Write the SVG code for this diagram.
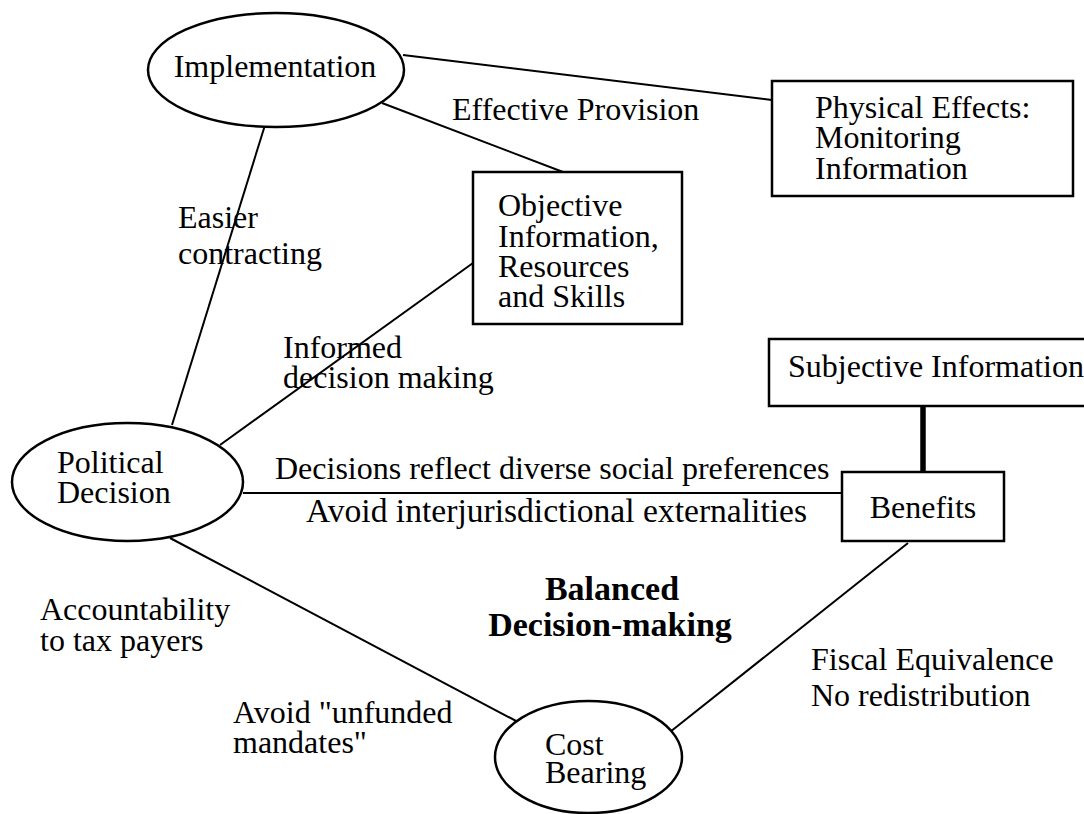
<svg xmlns="http://www.w3.org/2000/svg" width="1084" height="814" viewBox="0 0 1084 814">
<style>
text{font-family:"Liberation Serif","Times New Roman",serif;font-size:32px;fill:#000}
.node{fill:#fff;stroke:#000;stroke-width:2.5}
.conn{stroke:#000;stroke-width:2;fill:none}
.thick{stroke:#000;stroke-width:5.5;fill:none}
.bold{font-weight:bold;font-size:34px}
</style>
<rect width="1084" height="814" fill="#fff"/>
<g id="connectors">
<line class="conn" x1="403" y1="55" x2="772" y2="100"/>
<line class="conn" x1="382" y1="103" x2="563" y2="172"/>
<line class="conn" x1="265" y1="125" x2="172" y2="425"/>
<line class="conn" x1="220" y1="445" x2="473" y2="263"/>
<line class="conn" x1="243" y1="493" x2="842" y2="493"/>
<line class="conn" x1="908" y1="543" x2="670" y2="732"/>
<line class="conn" x1="170" y1="538" x2="518" y2="722"/>
<line class="thick" x1="923" y1="406" x2="923" y2="472"/>
</g>
<g id="implementation">
<ellipse class="node" cx="276" cy="70" rx="128" ry="57"/>
<text x="275" y="77" text-anchor="middle">Implementation</text>
</g>
<g id="physical-effects">
<rect class="node" x="772" y="81" width="301" height="115"/>
<text x="815" y="118">Physical Effects:</text>
<text x="815" y="148">Monitoring</text>
<text x="815" y="179">Information</text>
</g>
<g id="objective-information">
<rect class="node" x="473" y="172" width="209" height="152"/>
<text x="498" y="216">Objective</text>
<text x="498" y="247">Information,</text>
<text x="498" y="277">Resources</text>
<text x="498" y="307">and Skills</text>
</g>
<g id="subjective-information">
<rect class="node" x="769" y="339" width="330" height="67"/>
<text x="788" y="377">Subjective Information</text>
</g>
<g id="benefits">
<rect class="node" x="842" y="472" width="162" height="69"/>
<text x="923" y="518" text-anchor="middle">Benefits</text>
</g>
<g id="political-decision">
<ellipse class="node" cx="127.5" cy="482" rx="115.5" ry="59"/>
<text x="57" y="473">Political</text>
<text x="57" y="503">Decision</text>
</g>
<g id="cost-bearing">
<ellipse class="node" cx="588.5" cy="757" rx="93.5" ry="56"/>
<text x="545" y="755">Cost</text>
<text x="545" y="783">Bearing</text>
</g>
<g id="labels">
<text x="452" y="120">Effective Provision</text>
<text x="178" y="228">Easier</text>
<text x="178" y="264">contracting</text>
<text x="283" y="358">Informed</text>
<text x="283" y="388">decision making</text>
<text x="275" y="479">Decisions reflect diverse social preferences</text>
<text x="306" y="522" style="font-size:33.6px">Avoid interjurisdictional externalities</text>
<text class="bold" x="612" y="600" text-anchor="middle">Balanced</text>
<text class="bold" x="610" y="636" text-anchor="middle">Decision-making</text>
<text x="40" y="620">Accountability</text>
<text x="40" y="651">to tax payers</text>
<text x="233" y="723">Avoid "unfunded</text>
<text x="233" y="753">mandates"</text>
<text x="811" y="670">Fiscal Equivalence</text>
<text x="811" y="706">No redistribution</text>
</g>
</svg>
